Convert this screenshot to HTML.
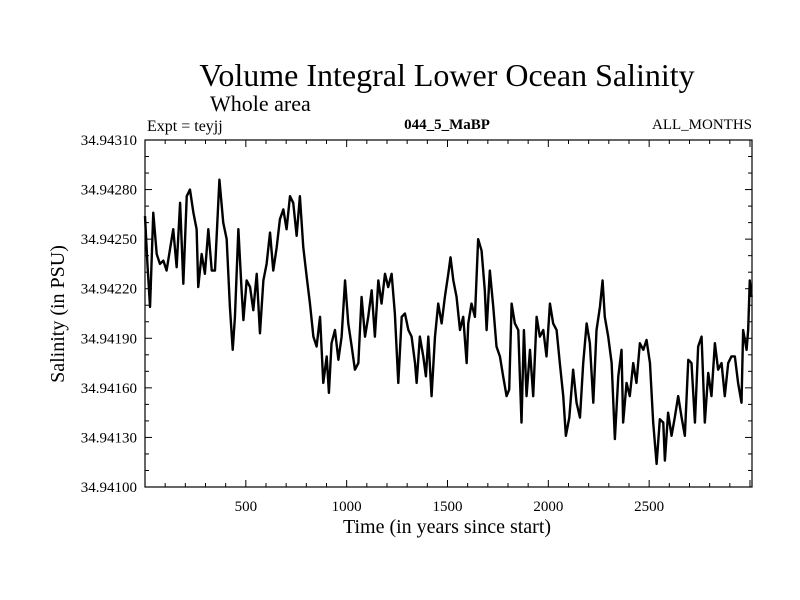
<!DOCTYPE html>
<html><head><meta charset="utf-8"><style>
html,body{margin:0;padding:0;background:#fff}
svg{display:block;font-family:"Liberation Serif",serif}
</style></head><body>
<svg id="chart" width="800" height="600" viewBox="0 0 800 600">
<text x="447" y="86" font-size="32" text-anchor="middle">Volume Integral Lower Ocean Salinity</text>
<text x="210" y="111" font-size="22">Whole area</text>
<text x="147" y="131" font-size="16">Expt = teyjj</text>
<text x="447" y="129" font-size="15" text-anchor="middle" font-weight="bold">044_5_MaBP</text>
<text x="752" y="129" font-size="15" text-anchor="end">ALL_MONTHS</text>
<text x="447" y="533" font-size="20" text-anchor="middle">Time (in years since start)</text>
<text transform="translate(64,314) rotate(-90)" font-size="20" text-anchor="middle">Salinity (in PSU)</text>
<g id="ticks"></g>
<g id="series"></g>
<rect x="145" y="140" width="607" height="347" fill="none" stroke="#000" stroke-width="1.2"/>
</svg>
<script>
const years = [0,12,25,41,58,74,91,107,140,157,174,190,207,223,240,256,264,281,297,314,331,347,369,388,405,421,435,446,463,479,488,504,521,537,554,570,587,603,620,636,653,669,686,702,719,735,752,768,785,802,818,835,851,868,884,901,912,925,942,959,975,992,1008,1025,1041,1058,1074,1091,1107,1124,1140,1157,1173,1190,1206,1223,1239,1256,1273,1289,1306,1322,1339,1347,1363,1380,1393,1405,1421,1438,1454,1471,1487,1504,1515,1529,1545,1562,1578,1595,1603,1619,1636,1652,1669,1685,1694,1710,1727,1743,1760,1776,1793,1806,1818,1834,1851,1867,1879,1892,1909,1925,1942,1958,1975,1991,2008,2024,2041,2057,2074,2087,2104,2123,2140,2157,2173,2190,2206,2223,2239,2256,2269,2280,2297,2314,2330,2347,2363,2371,2388,2404,2421,2437,2454,2471,2487,2504,2520,2537,2553,2570,2578,2594,2611,2627,2644,2661,2677,2694,2710,2727,2743,2760,2776,2793,2809,2826,2842,2859,2875,2892,2908,2925,2941,2958,2966,2983,2991,2999,3008];
const salinity = [34.94264,34.94235,34.94209,34.94266,34.94241,34.94235,34.94237,34.94231,34.94256,34.94233,34.94272,34.94223,34.94276,34.94280,34.94266,34.94256,34.94221,34.94241,34.94229,34.94256,34.94231,34.94231,34.94286,34.94260,34.94250,34.94209,34.94183,34.94203,34.94256,34.94219,34.94201,34.94225,34.94221,34.94207,34.94229,34.94193,34.94225,34.94235,34.94254,34.94231,34.94245,34.94262,34.94268,34.94256,34.94276,34.94272,34.94252,34.94276,34.94245,34.94227,34.94211,34.94191,34.94185,34.94203,34.94163,34.94179,34.94157,34.94187,34.94195,34.94177,34.94191,34.94225,34.94199,34.94185,34.94171,34.94175,34.94215,34.94191,34.94203,34.94219,34.94191,34.94225,34.94211,34.94229,34.94221,34.94229,34.94205,34.94163,34.94203,34.94205,34.94195,34.94191,34.94175,34.94163,34.94191,34.94179,34.94167,34.94191,34.94155,34.94191,34.94211,34.94199,34.94215,34.94229,34.94239,34.94225,34.94215,34.94195,34.94203,34.94175,34.94199,34.94211,34.94203,34.94250,34.94243,34.94219,34.94195,34.94231,34.94209,34.94185,34.94179,34.94167,34.94155,34.94159,34.94211,34.94199,34.94195,34.94139,34.94195,34.94155,34.94183,34.94155,34.94203,34.94191,34.94195,34.94179,34.94211,34.94199,34.94195,34.94175,34.94155,34.94131,34.94142,34.94171,34.94151,34.94142,34.94175,34.94199,34.94187,34.94151,34.94195,34.94209,34.94225,34.94203,34.94191,34.94175,34.94129,34.94167,34.94183,34.94139,34.94163,34.94155,34.94175,34.94163,34.94187,34.94183,34.94189,34.94175,34.94139,34.94114,34.94141,34.94139,34.94116,34.94145,34.94131,34.94142,34.94155,34.94142,34.94131,34.94177,34.94175,34.94139,34.94185,34.94191,34.94139,34.94169,34.94155,34.94187,34.94171,34.94175,34.94155,34.94175,34.94179,34.94179,34.94163,34.94151,34.94195,34.94183,34.94195,34.94225,34.94215];
const yTickValues = [34.941,34.9413,34.9416,34.9419,34.9422,34.9425,34.9428,34.9431];
const yTickLabels = ["34.94100","34.94130","34.94160","34.94190","34.94220","34.94250","34.94280","34.94310"];
const xTickValues = [500,1000,1500,2000,2500];
const xTickLabels = ["500","1000","1500","2000","2500"];

const L=145,R=752,T=140,B=487;
const X0=0,X1=3010,Y0=34.941,Y1=34.9431;
function sx(v){return L+(v-X0)/(X1-X0)*(R-L);}
function sy(v){return B-(v-Y0)/(Y1-Y0)*(B-T);}
const NS="http://www.w3.org/2000/svg";
const tg=document.getElementById('ticks');
function line(x1,y1,x2,y2,name){
  const l=document.createElementNS(NS,'line');
  l.setAttribute('x1',x1);l.setAttribute('y1',y1);l.setAttribute('x2',x2);l.setAttribute('y2',y2);
  l.setAttribute('stroke','#000');l.setAttribute('stroke-width','1');
  
  
  tg.appendChild(l);
}
function text(x,y,s,anchor,name){
  const t=document.createElementNS(NS,'text');
  t.setAttribute('x',x);t.setAttribute('y',y);t.setAttribute('font-size','15');t.setAttribute('text-anchor',anchor);
  t.textContent=s;
  
  
  tg.appendChild(t);
}
for(let i=0;i<=21;i++){
  const v=Y0+i*0.0001, y=sy(v), major=(i%3===0);
  const len=major?7:4;
  line(L,y,L+len,y,'y-tick');
  line(R,y,R-len,y,'y-tick-right');
}
yTickValues.forEach((v,i)=>text(L-8,sy(v)+5,yTickLabels[i],'end','y-tick-label'));
for(let yr=100;yr<X1;yr+=100){
  const x=sx(yr), major=(yr%500===0), len=major?7:4;
  line(x,B,x,B-len,'x-tick');
  line(x,T,x,T+len,'x-tick-top');
}
xTickValues.forEach((v,i)=>text(sx(v),B+24,xTickLabels[i],'middle','x-tick-label'));
const d=years.map((yr,i)=>(i?'L':'M')+sx(yr).toFixed(2)+','+sy(salinity[i]).toFixed(2)).join('');
const p=document.createElementNS(NS,'path');
p.setAttribute('d',d);p.setAttribute('fill','none');p.setAttribute('stroke','#000');
p.setAttribute('stroke-width','2.4');p.setAttribute('stroke-linejoin','round');


document.getElementById('series').appendChild(p);
</script>
</body></html>
